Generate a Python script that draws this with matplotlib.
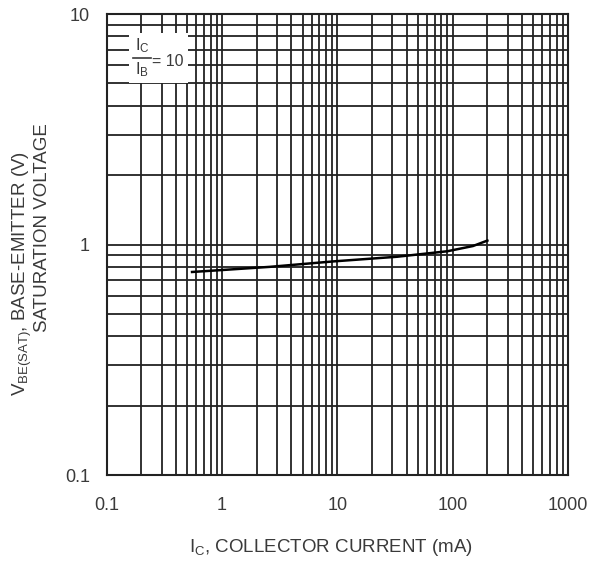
import matplotlib

matplotlib.use("Agg")
import matplotlib.pyplot as plt
from matplotlib.lines import Line2D
from matplotlib.patches import Rectangle
from matplotlib.ticker import FixedLocator, LogLocator, NullFormatter

# V_BE(sat) vs I_C
ic_ma = [0.55, 1.0, 2.6, 9.3, 33.0, 90.0, 150.0, 200.0]
vbe_sat = [0.76, 0.775, 0.80, 0.845, 0.885, 0.935, 0.985, 1.04]

x_ticks = [0.1, 1, 10, 100, 1000]
x_labels = ["0.1", "1", "10", "100", "1000"]
y_ticks = [0.1, 1, 10]
y_labels = ["0.1", "1", "10"]

plt.rcParams["font.family"] = ["Liberation Sans", "DejaVu Sans"]
plt.rcParams["mathtext.fontset"] = "custom"
plt.rcParams["mathtext.rm"] = "Liberation Sans"
plt.rcParams["mathtext.it"] = "Liberation Sans"

TXT = "#3a3a3a"
GRID = "#222222"
W, H = 594, 563

fig = plt.figure(figsize=(5.94, 5.63), dpi=100)
ax = fig.add_axes([0.1796, 0.1563, 0.7766, 0.8188])

ax.set_xscale("log")
ax.set_yscale("log")
ax.set_xlim(0.1, 1000)
ax.set_ylim(0.1, 10)

ax.xaxis.set_major_locator(FixedLocator(x_ticks))
ax.yaxis.set_major_locator(FixedLocator(y_ticks))
ax.set_xticklabels(x_labels)
ax.set_yticklabels(y_labels)
ax.xaxis.set_minor_locator(LogLocator(base=10, subs=range(2, 10)))
ax.yaxis.set_minor_locator(LogLocator(base=10, subs=range(2, 10)))
ax.xaxis.set_minor_formatter(NullFormatter())
ax.yaxis.set_minor_formatter(NullFormatter())
ax.tick_params(which="both", length=0, labelsize=13, labelcolor=TXT)
ax.tick_params(axis="x", pad=16)
ax.tick_params(axis="y", pad=12)

ax.grid(which="both", color=GRID, lw=1.3)
ax.set_axisbelow(True)
for s in ax.spines.values():
    s.set_color(GRID)
    s.set_linewidth(1.5)

ax.plot(ic_ma, vbe_sat, color="black", lw=1.8, zorder=3)

# white box with the IC/IB = 10 note (pixel positions of the reference)
ax.add_patch(Rectangle((0.048, 0.850), 0.128, 0.109, transform=ax.transAxes,
                       facecolor="white", edgecolor="none", zorder=4))
fig.text(142 / W, 1 - 46 / H, r"I$_\mathrm{C}$", ha="center", va="center",
         fontsize=12, color=TXT, zorder=5)
fig.text(142 / W, 1 - 70 / H, r"I$_\mathrm{B}$", ha="center", va="center",
         fontsize=12, color=TXT, zorder=5)
fig.add_artist(Line2D([133 / W, 151 / W], [1 - 58 / H, 1 - 58 / H],
                      color=TXT, lw=1.2, zorder=5))
fig.text(152 / W, 1 - 61 / H, "= 10", ha="left", va="center",
         fontsize=11.5, color=TXT, zorder=5)

fig.text(331 / W, 1 - 547 / H,
         r"I$_\mathrm{C}$, COLLECTOR CURRENT (mA)",
         ha="center", va="center", fontsize=13.5, color=TXT)
fig.text(22 / W, 1 - 273 / H,
         r"V$_\mathrm{BE(SAT)}$, BASE-EMITTER (V)",
         rotation=90, ha="center", va="center", fontsize=13.5, color=TXT)
fig.text(43 / W, 1 - 228 / H, "SATURATION VOLTAGE",
         rotation=90, ha="center", va="center", fontsize=13.5, color=TXT)

fig.savefig("out.png", dpi=100)
